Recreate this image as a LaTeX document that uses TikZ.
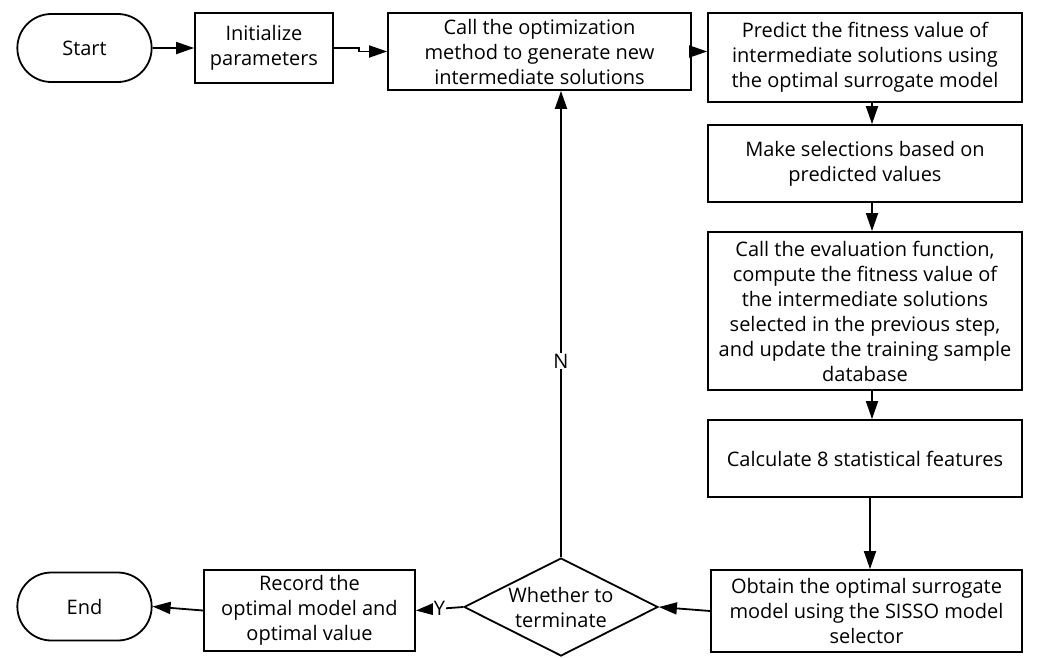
\documentclass[tikz,border=0pt]{standalone}
\usepackage{fontspec}
\setmainfont{Open Sans}
\usetikzlibrary{shapes.geometric,shapes.misc,arrows.meta}
\begin{document}
\begin{tikzpicture}[x=1pt,y=-1pt,
  every node/.style={font=\fontsize{20}{25}\selectfont, align=center, line width=1.8pt},
  box/.style={draw, rectangle, inner sep=2pt},
  term/.style={draw, rounded rectangle, minimum width=141pt, minimum height=68pt},
  dec/.style={draw, diamond, shape aspect=2, inner sep=-4pt, minimum width=194pt, minimum height=98pt},
  conn/.style={line width=1.8pt, -{Triangle[length=18pt,width=12pt]}},
  lbl/.style={fill=white, inner sep=1pt}
]
\useasboundingbox (0,0) rectangle (1037,657);
\node[term] (start) at (84.5,48) {Start};
\node[box, minimum width=138pt, minimum height=70pt] (init) at (264,48) {Initialize\\parameters};
\node[box, minimum width=303pt, minimum height=77pt] (call) at (539.5,51.5) {Call the optimization\\method to generate new\\intermediate solutions};
\node[box, minimum width=314pt, minimum height=89pt] (pred) at (865,57.5) {Predict the fitness value of\\intermediate solutions using\\the optimal surrogate model};
\node[box, minimum width=314pt, minimum height=77pt] (make) at (865,163.5) {Make selections based on\\predicted values};
\node[box, minimum width=314pt, minimum height=158pt] (eval) at (865,311) {Call the evaluation function,\\compute the fitness value of\\the intermediate solutions\\selected in the previous step,\\and update the training sample\\database};
\node[box, minimum width=314pt, minimum height=77pt] (calc) at (865,458.5) {Calculate 8 statistical features};
\node[box, minimum width=311pt, minimum height=82pt] (obt) at (866.5,611) {Obtain the optimal surrogate\\model using the SISSO model\\selector};
\node[dec] (dec) at (561,607) {Whether to\\terminate};
\node[box, minimum width=211pt, minimum height=81pt] (rec) at (309.5,610.5) {Record the\\optimal model and\\optimal value};
\node[term] (end) at (84.5,606.5) {End};

\coordinate (jog) at (359,48);
\draw[conn] (start.east) -- (init.west);
\draw[conn] (init.east) -- (jog) |- (call.west);
\draw[conn] (call.east) -- (call.east -| pred.west);
\draw[conn] (pred.south -| 872,0) -- (make.north -| 872,0);
\draw[conn] (make.south -| 872,0) -- (eval.north -| 872,0);
\draw[conn] (eval.south -| 872,0) -- (calc.north -| 872,0);
\draw[conn] (calc.south -| 870,0) -- (obt.north -| 870,0);
\draw[conn] (obt.west) -- (dec.east);
\draw[conn] (dec.west) -- node[lbl] {Y} (rec.east);
\draw[conn] (rec.west) -- (end.east);
\draw[conn] (dec.north) -- node[lbl, pos=0.42] {N} (call.south -| dec.north);
\end{tikzpicture}
\end{document}
